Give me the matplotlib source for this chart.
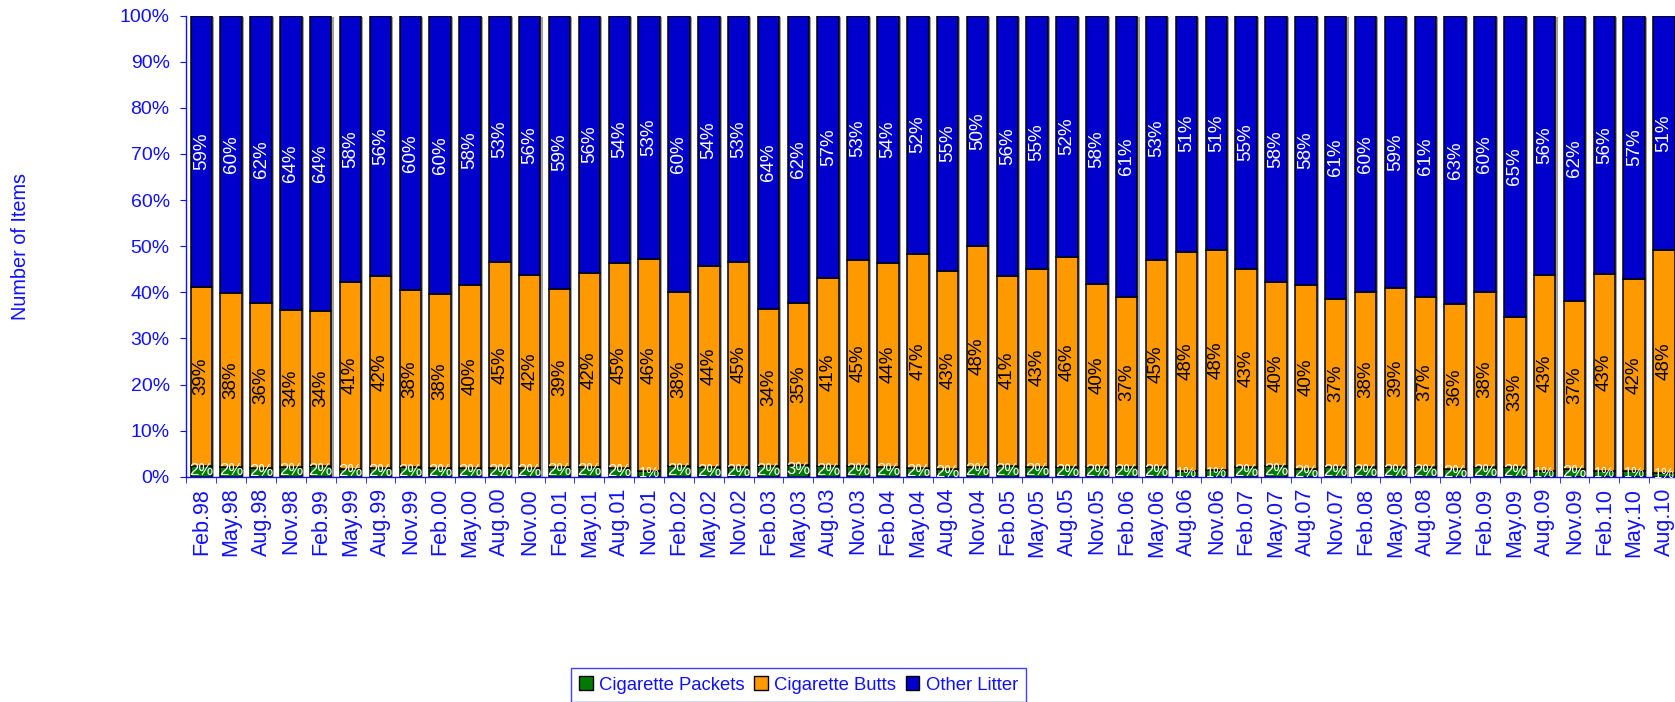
import matplotlib
matplotlib.use("Agg")
import matplotlib.pyplot as plt
from matplotlib.patches import Patch
import numpy as np

plt.rcParams['font.family'] = ['Liberation Sans', 'DejaVu Sans']

dates = ["Feb.98", "May.98", "Aug.98", "Nov.98", "Feb.99", "May.99", "Aug.99", "Nov.99",
         "Feb.00", "May.00", "Aug.00", "Nov.00", "Feb.01", "May.01", "Aug.01", "Nov.01",
         "Feb.02", "May.02", "Nov.02", "Feb.03", "May.03", "Aug.03", "Nov.03", "Feb.04",
         "May.04", "Aug.04", "Nov.04", "Feb.05", "May.05", "Aug.05", "Nov.05", "Feb.06",
         "May.06", "Aug.06", "Nov.06", "Feb.07", "May.07", "Aug.07", "Nov.07", "Feb.08",
         "May.08", "Aug.08", "Nov.08", "Feb.09", "May.09", "Aug.09", "Nov.09", "Feb.10",
         "May.10", "Aug.10"]

cig_packets = [2.4, 2.2, 1.8, 2.2, 2.3, 1.7, 1.9, 2.0, 1.9, 1.9, 1.8, 1.9, 2.2, 2.2, 1.8, 1.2,
               2.4, 2.0, 2.0, 2.4, 2.6, 2.4, 2.3, 2.2, 1.8, 1.6, 2.1, 2.4, 2.2, 2.0, 2.0, 2.0,
               2.0, 1.2, 1.4, 2.0, 2.4, 1.6, 2.0, 2.0, 2.0, 2.0, 1.6, 2.0, 2.0, 1.2, 1.6, 1.3,
               1.3, 0.9]
cig_butts = [38.8, 37.6, 35.9, 34.0, 33.6, 40.6, 41.7, 38.4, 37.7, 39.7, 44.8, 41.9, 38.6, 41.9,
             44.6, 46.0, 37.6, 43.8, 44.6, 34.0, 35.1, 40.7, 44.6, 44.2, 46.6, 43.1, 47.9, 41.2,
             42.9, 45.7, 39.9, 36.9, 44.9, 47.6, 47.8, 43.1, 39.9, 40.0, 36.6, 38.1, 38.9, 37.0,
             35.8, 38.1, 32.7, 42.6, 36.6, 42.6, 41.6, 48.3]
other_litter = [58.8, 60.2, 62.3, 63.8, 64.1, 57.7, 56.4, 59.6, 60.4, 58.4, 53.4, 56.2, 59.2, 55.9,
                53.6, 52.8, 60.0, 54.2, 53.4, 63.6, 62.3, 56.9, 53.1, 53.6, 51.6, 55.3, 50.0, 56.4,
                54.9, 52.3, 58.1, 61.1, 53.1, 51.2, 50.8, 54.9, 57.7, 58.4, 61.4, 59.9, 59.1, 61.0,
                62.6, 59.9, 65.3, 56.2, 61.8, 56.1, 57.1, 50.8]

series_names = ["Cigarette Packets", "Cigarette Butts", "Other Litter"]
colors = ["#007A00", "#FF9900", "#0000CC"]
blue = "#1010FF"

W, H = 1675, 702
fig = plt.figure(figsize=(W / 100, H / 100), dpi=100)
ax_left, ax_right = 186.4, 1679.0
ax_top, ax_bot = 15.7, 476.7
ax = fig.add_axes([ax_left / W, 1 - ax_bot / H, (ax_right - ax_left) / W, (ax_bot - ax_top) / H])

n = len(dates)
x = np.arange(n) + 0.5
bw = 0.72
p = np.array(cig_packets)
b = np.array(cig_butts)
o = np.array(other_litter)
tot = p + b + o
p_, b_, o_ = p / tot * 100, b / tot * 100, o / tot * 100

# shadow
ax.bar(x + 0.07, p_ + b_ + o_, bw, bottom=-0.35, color="#A0A0A0", edgecolor="none", zorder=1)
ax.bar(x, p_, bw, color=colors[0], edgecolor="black", linewidth=1.1, zorder=2)
ax.bar(x, b_, bw, bottom=p_, color=colors[1], edgecolor="black", linewidth=1.1, zorder=2)
ax.bar(x, o_, bw, bottom=p_ + b_, color=colors[2], edgecolor="black", linewidth=1.1, zorder=2)

for i in range(n):
    ax.text(x[i], p_[i] / 2 + 0.2, f"{p[i]:.0f}%", ha="center", va="center", color="white",
            fontsize=12 if p[i] >= 1.5 else 10.5, zorder=3)
    ax.text(x[i], p_[i] + b_[i] / 2, f"{b[i]:.0f}%", ha="center", va="center", color="black",
            fontsize=13.5, rotation=90, zorder=3)
    ax.text(x[i], p_[i] + b_[i] + o_[i] / 2, f"{o[i]:.0f}%", ha="center", va="center",
            color="white", fontsize=13.5, rotation=90, zorder=3)

ax.set_xlim(0, n)
ax.set_ylim(0, 100)
ax.set_yticks(np.arange(0, 101, 10))
ax.set_yticklabels([f"{v}%" for v in range(0, 101, 10)])
ax.set_xticks(x)
ax.set_xticklabels(dates, rotation=90)
ax.set_xticks(np.arange(0, n + 1), minor=True)
ax.tick_params(axis="x", which="major", length=0, labelsize=15.5, labelcolor=blue, pad=8)
ax.tick_params(axis="x", which="minor", length=4, color=blue, direction="out")
ax.tick_params(axis="y", length=4, color=blue, labelsize=14, labelcolor=blue, pad=8)
for s in ["top", "right"]:
    ax.spines[s].set_visible(False)
for s in ["left", "bottom"]:
    ax.spines[s].set_color(blue)
    ax.spines[s].set_linewidth(1.0)

fig.text(21 / W, 1 - 246 / H, "Number of Items", rotation=90, ha="center", va="center",
         color=blue, fontsize=14.3)

handles = [Patch(facecolor=c, edgecolor="black", linewidth=1.0) for c in colors]
leg = fig.legend(handles, series_names, loc="upper center", ncol=3,
                 bbox_to_anchor=(798.5 / W, 1 - 668 / H), frameon=True, fancybox=False,
                 fontsize=13.3, handlelength=0.75, handleheight=0.75, handletextpad=0.35,
                 columnspacing=0.5, borderpad=0.45, borderaxespad=0)
leg.get_frame().set_edgecolor(blue)
leg.get_frame().set_linewidth(1.0)
for t in leg.get_texts():
    t.set_color(blue)

fig.savefig("out.png", dpi=100)
